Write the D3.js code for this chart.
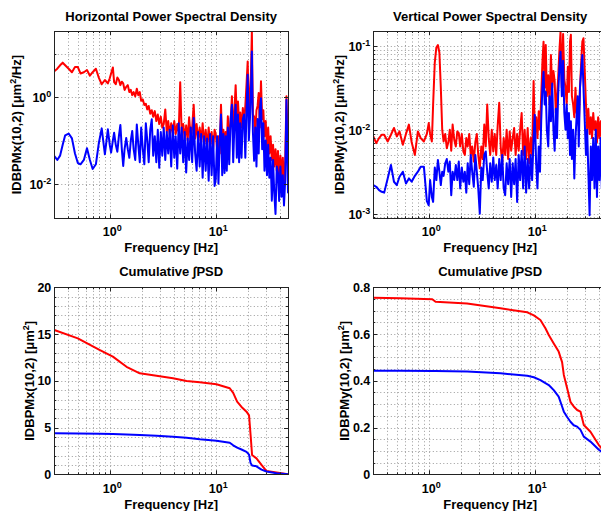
<!DOCTYPE html>
<html><head><meta charset="utf-8">
<script src="https://cdn.jsdelivr.net/npm/d3@7"></script>
<style>
body{margin:0;background:#fff}
svg{display:block}
text{font-family:"Liberation Sans",Arial,Helvetica,sans-serif;font-weight:bold;fill:#000}
.grid{stroke:#9a9a9a;stroke-width:1;stroke-dasharray:1,2.5;fill:none}
.box{stroke:#222;stroke-width:1;fill:none}
.tick{stroke:#222;stroke-width:1}
</style>
</head><body>
<svg id="c" width="601" height="511"></svg>
<script>
// ---------- DATA ----------
const freq = [
 0.30,0.32,0.34,0.36,0.38,0.41,0.44,0.47,0.50,0.53,0.57,0.61,0.65,0.69,0.74,0.79,0.84,0.90,0.96,
 1.00,1.03,1.07,1.10,1.14,1.18,1.22,1.26,1.30,1.34,1.38,1.43,1.48,1.53,1.58,1.63,1.68,1.74,1.80,1.86,
 1.92,1.98,2.05,2.12,2.19,2.26,2.33,2.41,2.49,2.57,2.66,2.75,2.84,2.93,3.03,3.13,3.23,3.34,3.45,3.56,
 3.68,3.80,3.93,4.06,4.19,4.33,4.47,4.62,4.77,4.93,5.09,5.26,5.43,5.61,5.80,5.99,6.19,6.39,6.60,6.82,
 7.05,7.28,7.52,7.77,8.03,8.29,8.57,8.85,9.14,9.44,9.75,
 10.0,10.3,10.6,10.9,11.2,11.5,11.8,12.1,12.4,12.7,13.0,13.4,13.8,14.2,14.6,15.0,15.4,15.8,16.2,16.6,
 17.0,17.5,18.0,18.5,19.0,19.5,20.0,20.5,21.0,21.5,21.9,22.4,23.0,23.6,24.2,24.8,25.4,26.0,26.7,27.4,
 28.1,28.8,29.6,30.4,31.2,32.0,32.9,33.8,34.7,35.6,36.6,37.6,38.6,39.6,40.7,41.8,42.9,44.0,45.2,46.4,48.0
];
const psdHRed = [
 3.98,4.57,5.50,6.31,5.50,4.57,3.80,5.01,5.01,3.55,3.80,4.27,3.16,3.80,4.57,2.82,2.00,2.51,2.09,
 2.75,3.55,4.90,2.24,2.00,2.88,2.51,1.91,2.29,2.09, 1.48,1.74,1.91,1.32,1.48,1.12,1.32,1.05,1.58,1.12,
 1.32,0.832,0.891,0.661,0.708,0.525,0.631,0.417,0.501,0.355, 0.479,0.282,0.398,0.240,0.355,0.200,0.240,0.525,0.158,0.282,
 0.132,0.251,0.151,0.282,0.141,0.240,0.158,2.24,0.141,0.240, 0.112,0.224,0.100,0.347,0.112,0.200,0.676,0.112,0.240,0.100,
 0.200,0.0891,0.251,0.0794,0.178,0.0708,0.200,0.0794,0.158,0.0631,0.178,
 0.138,0.0631,0.126,0.0501,0.676,0.100,0.178,0.0631,0.158,0.0794, 0.363,0.100,0.251,1.05,0.126,0.501,1.91,0.316,0.794,0.251,
 0.447,0.200,0.562,0.251,0.631,2.00,6.76,0.501,1.00,3.98, 33.1,0.398,0.355,0.126,0.501,0.631,1.26,0.200,2.34,0.316,
 0.501,0.126,0.282,0.0631,0.200,0.0501,0.126,0.0355,0.0794,0.0251, 0.0631,0.0200,0.0575,0.0126,0.0447,0.0158,0.0398,0.0100,0.0355,1.05,0.0631
];
const psdHBlue = [
 0.0437,0.0355,0.0447,0.0794,0.132,0.145,0.112,0.0501,0.0302,0.0282,0.0355,0.0661,0.0355,0.0219,0.0282,0.0891,0.191,0.0479,0.182,
 0.0794,0.0525,0.100,0.151,0.0794,0.0550,0.126,0.229,0.0631,0.0257, 0.0631,0.115,0.0631,0.0398,0.100,0.166,0.0631,0.0355,0.234,0.0794,
 0.0316,0.200,0.0631,0.0282,0.251,0.100,0.0316,0.178,0.309,0.0447, 0.126,0.0316,0.178,0.0234,0.158,0.0447,0.200,0.0355,0.158,0.0501,
 0.178,0.0251,0.224,0.0398,0.126,0.0224,0.251,0.0501,0.200,0.0316, 0.158,0.0182,0.112,0.0355,0.200,0.0316,0.331,0.0501,0.0200,0.158,
 0.0251,0.141,0.0138,0.126,0.0200,0.112,0.0117,0.141,0.0158,0.126,0.00891,
 0.0126,0.126,0.0100,0.100,0.398,0.0158,0.141,0.0178,0.126,0.0200, 0.200,0.0282,0.316,0.676,0.0316,0.251,0.676,0.0398,0.398,0.0316,
 0.251,0.0398,0.316,0.398,0.0398,0.501,3.31,0.100,0.316,1.58, 11.5,0.158,0.0339,0.200,0.0251,0.316,0.0501,0.501,0.955,0.0631,
 0.251,0.0200,0.100,0.0158,0.0794,0.0138,0.0398,0.00407,0.0355,0.00631, 0.00200,0.0251,0.0178,0.00398,0.0251,0.00501,0.0158,0.00316,0.0126,0.871,0.00631
];
const psdVRed = [
 0.00832,0.00692,0.00794,0.00871,0.00871,0.00724,0.00871,0.0105,0.00832,0.00955,0.00661,0.00891,0.0115,0.00708,0.00501,0.00955,0.00794,0.00724,0.00891,
 0.0120,0.00891,0.00724,0.0200,0.0631,0.0955,0.102,0.0832,0.0316,0.0100, 0.00724,0.00891,0.00603,0.00708,0.0100,0.00562,0.0115,0.00759,0.00631,0.00955,
 0.00912,0.00631,0.00891,0.00550,0.00501,0.00794,0.00631,0.00891,0.00501,0.00631, 0.00417,0.00708,0.00891,0.00501,0.00347,0.00631,0.00447,0.0115,0.00631,0.0200,
 0.00794,0.00501,0.0100,0.00550,0.00891,0.00501,0.0112,0.0209,0.00631,0.00398, 0.00794,0.00501,0.0100,0.00447,0.00955,0.00562,0.00794,0.0105,0.00501,0.00891,
 0.00562,0.0100,0.0158,0.00501,0.0100,0.00447,0.0105,0.00398,0.00794,0.00501,0.0380,
 0.0100,0.0141,0.00794,0.0166,0.0100,0.0251,0.0631,0.112,0.0316,0.102, 0.0251,0.0447,0.0200,0.0776,0.0316,0.0501,0.0380,0.0158,0.0251,0.0398,
 0.0794,0.148,0.0316,0.138,0.0398,0.0316,0.0200,0.0562,0.0282,0.112, 0.135,0.0251,0.0200,0.0141,0.0316,0.0158,0.0224,0.0112,0.0316,0.0631,
 0.112,0.123,0.0501,0.0200,0.0100,0.0178,0.00891,0.0141,0.00794,0.0158, 0.0100,0.0126,0.00708,0.0141,0.00794,0.0126,0.00794,0.0126,0.00631,0.0126,0.00794
];
const psdVBlue = [
 0.00219,0.00209,0.00191,0.00182,0.00178,0.00263,0.00380,0.00240,0.00219,0.00275,0.00316,0.00229,0.00263,0.00240,0.00282,0.00316,0.00363,0.00363,0.00141,
 0.00126,0.00251,0.00158,0.00138,0.00355,0.00251,0.00437,0.00316,0.00219,0.00316, 0.00282,0.00398,0.00447,0.00316,0.00417,0.00166,0.00316,0.00251,0.00380,0.00251,
 0.00417,0.00200,0.00355,0.00240,0.00316,0.00178,0.00398,0.00224,0.00501,0.00316, 0.00209,0.00501,0.00316,0.00200,0.00100,0.00355,0.00251,0.00501,0.00550,0.00316,
 0.00200,0.00398,0.00240,0.00468,0.00251,0.00380,0.00200,0.00447,0.00251,0.00501, 0.00200,0.00166,0.00398,0.00224,0.00447,0.00158,0.00398,0.00224,0.00447,0.00138,
 0.00501,0.00251,0.00562,0.00200,0.00631,0.00178,0.00447,0.00200,0.00501,0.00251,0.00794,
 0.0151,0.00398,0.00200,0.00631,0.00316,0.0126,0.0316,0.0490,0.0200,0.0282, 0.0100,0.00631,0.0251,0.0126,0.0355,0.0100,0.00562,0.0178,0.00794,0.0251,
 0.0501,0.0851,0.0251,0.0661,0.0158,0.0100,0.0200,0.00794,0.0158,0.00501, 0.0126,0.00447,0.0100,0.00263,0.00794,0.0141,0.0251,0.00631,0.0316,0.0501,
 0.0776,0.0316,0.0126,0.00501,0.0100,0.00316,0.000955,0.00631,0.00251,0.00794, 0.00200,0.0100,0.00158,0.00631,0.00251,0.00794,0.00200,0.00631,0.00251,0.00631,0.00251
];
const cumHFreq = [0.3,0.5,0.8,1.07,1.44,1.92,2.76,3.95,5.3,7.06,10.15,13.55,14.6,15.9,17.5,19.5,20.6,21.3,22.0,24.2,27.0,30.1,37.4,48];
const cumHRed  = [15.43,14.54,13.3,12.58,11.5,10.8,10.55,10.27,9.98,9.84,9.63,9.2,8.7,7.77,7.2,6.7,6.3,4.2,2.06,1.7,1.0,0.35,0.2,0.0];
const cumHBlue = [4.38,4.36,4.33,4.3,4.25,4.2,4.12,4.02,3.9,3.74,3.6,3.38,3.1,2.85,2.65,2.4,2.1,1.2,0.95,0.85,0.5,0.3,0.12,0.0];
const cumVFreq = [0.3,0.54,1.08,1.16,2.3,4.75,8.5,9.8,11.3,12.6,13.55,15.1,16.8,18.1,18.8,20.2,21.7,23.3,25.1,27.0,29.0,33.5,40.2,42.7,48];
const cumVRed  = [0.755,0.753,0.749,0.738,0.731,0.71,0.693,0.68,0.66,0.625,0.596,0.56,0.525,0.48,0.425,0.368,0.31,0.29,0.275,0.268,0.211,0.182,0.125,0.111,0.0];
const cumVBlue = [0.443,0.443,0.442,0.442,0.44,0.432,0.422,0.415,0.403,0.39,0.382,0.36,0.332,0.29,0.268,0.245,0.225,0.21,0.204,0.19,0.161,0.14,0.105,0.097,0.0];

const xDomain = [0.3, 48];
const xMajorTicks = [1, 10];
const xMinorTicks = [0.3,0.4,0.5,0.6,0.7,0.8,0.9,2,3,4,5,6,7,8,9,20,30,40];
const yTicksHPsd = [0.01, 1];
const yMinorHPsd = [0.1, 10];
const yTicksVPsd = [0.001, 0.01, 0.1];
const yMinorVPsd = [0.0009,0.002,0.003,0.004,0.005,0.006,0.007,0.008,0.009,0.02,0.03,0.04,0.05,0.06,0.07,0.08,0.09];
const yTicksHCum = [0,5,10,15,20];
const yMinorHCum = [1,2,3,4,6,7,8,9,11,12,13,14,16,17,18,19];
const yTicksVCum = [0,0.2,0.4,0.6,0.8];
const yMinorVCum = [0.05,0.1,0.15,0.25,0.3,0.35,0.45,0.5,0.55,0.65,0.7,0.75];
const titles = ["Horizontal Power Spectral Density","Vertical Power Spectral Density","Cumulative \u222BPSD","Cumulative \u222BPSD"];
const xLabel = "Frequency [Hz]";
const yLabels = [
  ["IDBPMx(10,2) [\u03BCm","2","/Hz]"],
  ["IDBPMy(10,2) [\u03BCm","2","/Hz]"],
  ["IDBPMx(10,2) [\u03BCm","2","]"],
  ["IDBPMy(10,2) [\u03BCm","2","]"]
];

// ---------- LAYOUT ----------
const plotW = 233.7;
const panels = [
  {left:54.3, top:31, h:187.3, log:true, yDom:[0.00159,34.1], yMaj:yTicksHPsd, yMin:yMinorHPsd,
   series:[[freq,psdHRed,"#ff0000"],[freq,psdHBlue,"#0000ff"]], title:titles[0], yl:yLabels[0], ylx:16.5, titleY:20.5, xtY:236, xlY:251.5},
  {left:373.3, top:31, h:187.3, log:true, yDom:[0.00088,0.15], yMaj:yTicksVPsd, yMin:yMinorVPsd,
   series:[[freq,psdVRed,"#ff0000"],[freq,psdVBlue,"#0000ff"]], title:titles[1], yl:yLabels[1], ylx:339.5, titleY:20.5, xtY:236, xlY:251.5},
  {left:54.3, top:287.3, h:187, log:false, yDom:[0,20], yMaj:yTicksHCum, yMin:yMinorHCum,
   series:[[cumHFreq,cumHRed,"#ff0000"],[cumHFreq,cumHBlue,"#0000ff"]], title:titles[2], yl:yLabels[2], ylx:29, titleY:275.5, xtY:492.5, xlY:509},
  {left:373.3, top:287.3, h:187, log:false, yDom:[0,0.8], yMaj:yTicksVCum, yMin:yMinorVCum,
   series:[[cumVFreq,cumVRed,"#ff0000"],[cumVFreq,cumVBlue,"#0000ff"]], title:titles[3], yl:yLabels[3], ylx:344, titleY:275.5, xtY:492.5, xlY:509}
];

const svg = d3.select("#c");
const defs = svg.append("defs");
const TF = 12.5, SF = 9;

// measure width of "10"
const tmp = svg.append("text").attr("font-size",TF).text("10");
const w10 = tmp.node().getComputedTextLength();
tmp.remove();

function expStr(v){ return String(Math.round(Math.log10(v))); }

panels.forEach((p,i)=>{
  const x = d3.scaleLog().domain(xDomain).range([p.left, p.left+plotW]);
  const y = (p.log ? d3.scaleLog() : d3.scaleLinear()).domain(p.yDom).range([p.top+p.h, p.top]);
  const bottom = p.top + p.h, right = p.left + plotW;
  const g = svg.append("g");
  const snap = v => Math.round(v) + 0.5;

  // grid
  const gx = xMajorTicks.concat(xMinorTicks);
  g.selectAll(null).data(gx).join("line").attr("class","grid")
    .attr("x1",d=>snap(x(d))).attr("x2",d=>snap(x(d))).attr("y1",p.top).attr("y2",bottom);
  const gy = p.yMaj.concat(p.yMin).filter(d=>y(d) > p.top+0.5 && y(d) < bottom-0.5);
  g.selectAll(null).data(gy).join("line").attr("class","grid")
    .attr("y1",d=>snap(y(d))).attr("y2",d=>snap(y(d))).attr("x1",p.left).attr("x2",right);

  // clip & data
  const cid = "clip"+i;
  defs.append("clipPath").attr("id",cid).append("rect")
    .attr("x",p.left).attr("y",p.top).attr("width",plotW).attr("height",p.h);
  const line = d3.line().x(d=>x(d[0])).y(d=>y(d[1]));
  const dg = g.append("g").attr("clip-path","url(#"+cid+")");
  p.series.forEach(s=>{
    const n = Math.min(s[0].length, s[1].length);
    const pts = d3.range(n).map(k=>[s[0][k], s[1][k]]);
    dg.append("path").datum(pts).attr("d",line)
      .attr("fill","none").attr("stroke",s[2]).attr("stroke-width",2)
      .attr("stroke-linejoin","round").attr("stroke-linecap","round");
  });

  // box
  g.append("rect").attr("class","box").attr("x",snap(p.left)).attr("y",snap(p.top))
    .attr("width",Math.round(plotW)).attr("height",Math.round(p.h));

  // ticks (inside, all four sides)
  const tk = (arr, len) => {
    arr.forEach(d=>{
      const xx = snap(x(d));
      g.append("line").attr("class","tick").attr("x1",xx).attr("x2",xx).attr("y1",bottom).attr("y2",bottom-len);
      g.append("line").attr("class","tick").attr("x1",xx).attr("x2",xx).attr("y1",p.top).attr("y2",p.top+len);
    });
  };
  tk(xMajorTicks, 4); tk(xMinorTicks, 2);
  const tky = (arr, len) => {
    arr.filter(d=>d>=p.yDom[0] && d<=p.yDom[1]).forEach(d=>{
      const yy = snap(y(d));
      g.append("line").attr("class","tick").attr("y1",yy).attr("y2",yy).attr("x1",p.left).attr("x2",p.left+len);
      g.append("line").attr("class","tick").attr("y1",yy).attr("y2",yy).attr("x1",right).attr("x2",right-len);
    });
  };
  tky(p.yMaj, 4); tky(p.yMin, 2);

  // x tick labels
  xMajorTicks.forEach(d=>{
    const t = g.append("text").attr("font-size",TF).attr("x",x(d)-w10/2).attr("y",p.xtY);
    t.append("tspan").text("10");
    t.append("tspan").attr("font-size",SF).attr("dy",-5).text(expStr(d));
  });
  // y tick labels
  p.yMaj.forEach(d=>{
    const t = g.append("text").attr("font-size",TF).attr("text-anchor","end")
      .attr("x",p.left-3).attr("y",y(d)+(p.log?5:4.5));
    if(p.log){
      t.append("tspan").text("10");
      t.append("tspan").attr("font-size",SF).attr("dy",-5).text(expStr(d));
    } else {
      t.text(Number.isInteger(d) ? String(d) : d.toFixed(1));
    }
  });

  // title
  const cx = p.left + plotW/2;
  g.append("text").attr("font-size",13).attr("text-anchor","middle").attr("x",cx).attr("y",p.titleY).text(p.title);
  // x label
  g.append("text").attr("font-size",13).attr("text-anchor","middle").attr("x",cx).attr("y",p.xlY).text(xLabel);
  // y label
  const cy = p.top + p.h/2;
  const yl = g.append("text").attr("font-size",13).attr("text-anchor","middle")
    .attr("transform","translate("+p.ylx+","+cy+") rotate(-90)").attr("y",4.5);
  yl.append("tspan").text(p.yl[0]);
  yl.append("tspan").attr("font-size",9).attr("dy",-5).text(p.yl[1]);
  yl.append("tspan").attr("dy",5).text(p.yl[2]);
});
</script>
</body></html>
